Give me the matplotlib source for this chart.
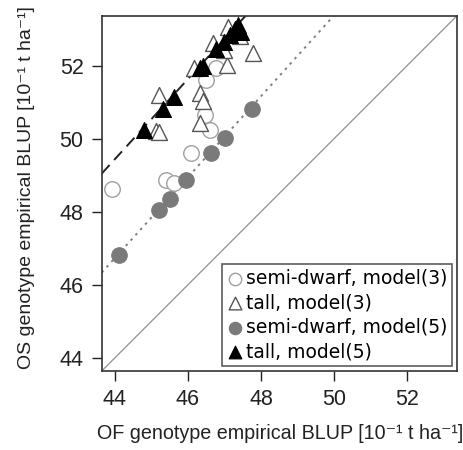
import matplotlib
matplotlib.use("Agg")
import matplotlib.pyplot as plt
import numpy as np

# data (OF BLUP x, OS BLUP y)
sd3_x = [43.93, 45.40, 45.63, 46.09, 46.60, 46.46, 46.50, 46.78]
sd3_y = [48.62, 48.88, 48.80, 49.62, 50.24, 50.64, 51.60, 51.94]

tall3_x = [45.20, 45.13, 45.20, 46.32, 46.41, 46.32, 46.16, 47.06, 47.79, 46.69, 47.10, 47.42, 46.98]
tall3_y = [51.20, 50.22, 50.19, 51.25, 51.02, 50.43, 51.94, 52.03, 52.35, 52.62, 53.06, 52.81, 52.44]

sd5_x = [44.10, 45.22, 45.52, 45.96, 46.62, 47.01, 47.75]
sd5_y = [46.82, 48.04, 48.36, 48.86, 49.60, 50.03, 50.81]

tall5_x = [44.81, 45.33, 45.63, 46.34, 46.40, 46.78, 46.98, 47.15, 47.29, 47.38, 47.45]
tall5_y = [50.24, 50.81, 51.15, 51.94, 51.99, 52.46, 52.65, 52.83, 53.00, 53.10, 52.92]

# fitted lines: (intercept at x=43.6, slope)
fit5_sd = (46.29, 1.107)
fit5_tall = (49.00, 1.097)

labels = ["semi-dwarf, model(3)", "tall, model(3)", "semi-dwarf, model(5)", "tall, model(5)"]
xticks = [44, 46, 48, 50, 52]
yticks = [44, 46, 48, 50, 52]

lo, hi = 43.64, 53.36

fig = plt.figure(figsize=(4.64, 4.5), dpi=100)
ax = fig.add_axes([101.7/464, 1-371/450, (456.7-101.7)/464, (371-16)/450])

xx = np.array([lo, hi])
ax.plot(xx, xx, color="#999999", lw=1.0, zorder=1)
ax.plot(xx, fit5_sd[0] + fit5_sd[1]*(xx-43.6), color="#808080", lw=1.4, ls=(0, (1.3, 2.4)), zorder=1)
ax.plot(xx, fit5_tall[0] + fit5_tall[1]*(xx-43.6), color="#222222", lw=1.4, ls=(0, (6, 3.5)), zorder=1)

ms = 125
h1 = ax.scatter(sd3_x, sd3_y, s=ms, marker="o", facecolors="white", edgecolors="#a0a0a0", linewidths=1.0, zorder=2)
h2 = ax.scatter(tall3_x, tall3_y, s=ms*1.05, marker="^", facecolors="white", edgecolors="#555555", linewidths=1.0, zorder=3)
h3 = ax.scatter(sd5_x, sd5_y, s=ms, marker="o", facecolors="#7a7a7a", edgecolors="#7a7a7a", linewidths=0.8, zorder=4)
h4 = ax.scatter(tall5_x, tall5_y, s=ms*1.05, marker="^", facecolors="black", edgecolors="black", linewidths=0.8, zorder=5)

ax.set_xlim(lo, hi)
ax.set_ylim(lo, hi)
ax.set_xticks(xticks)
ax.set_yticks(yticks)
ax.tick_params(direction="out", length=7, width=1.0, labelsize=15.5, pad=6, colors="#222222")
for lab in ax.get_xticklabels() + ax.get_yticklabels():
    lab.set_family("Liberation Sans")
for s in ax.spines.values():
    s.set_color("#333333")
    s.set_linewidth(1.2)

fam = ["Liberation Sans", "DejaVu Sans"]
ax.set_xlabel("OF genotype empirical BLUP [10\u207b\u00b9 t ha\u207b\u00b9]", fontsize=14.2,
              family=fam, labelpad=10, color="#222222")
ax.set_ylabel("OS genotype empirical BLUP [10\u207b\u00b9 t ha\u207b\u00b9]", fontsize=14.0,
              family=fam, labelpad=18, color="#222222")
ax.xaxis.label.set_x((280 - 101.7) / 355.0)
ax.yaxis.label.set_y((371 - 187.5) / 355.0)

leg = ax.legend([h1, h2, h3, h4], labels, loc="lower right", bbox_to_anchor=(0.987, 0.014),
                prop={"family": "DejaVu Sans", "size": 13.5}, frameon=True, fancybox=False,
                handletextpad=0.15, handlelength=0.9, borderpad=0.25, labelspacing=0.3,
                borderaxespad=0, markerscale=0.8)
leg.get_frame().set_edgecolor("#333333")
leg.get_frame().set_linewidth(1.2)

fig.savefig("out.png", dpi=100)
